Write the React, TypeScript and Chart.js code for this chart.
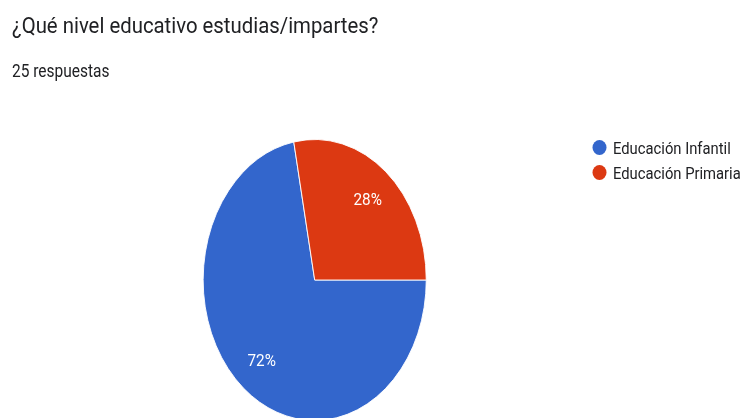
import React, { useEffect, useRef } from 'react';
import { Chart, registerables } from 'chart.js';

Chart.register(...registerables);

// ---- data ----
const TITLE = '¿Qué nivel educativo estudias/impartes?';
const RESPONSES_LABEL = 'respuestas';
const CATEGORIES = ['Educación Infantil', 'Educación Primaria'];
const COUNTS = [18, 7];
const COLORS = ['#3366cc', '#dc3912'];

// ---- layout / style ----
const W = 745;
const H = 418;
const CANVAS_H = 440;
const SX = 0.794; // horizontal squeeze of the pie (elliptical in reference)
const PIE_CX = 314.7;
const PIE_CY = 280;
const PIE_R = 141;
const LABEL_FRAC = 0.745;
const TEXT_COLOR = '#202124';

function drawText(
  ctx: CanvasRenderingContext2D,
  text: string,
  x: number,
  y: number,
  font: string,
  color: string,
  hscale: number,
  align: CanvasTextAlign = 'left',
  baseline: CanvasTextBaseline = 'alphabetic'
) {
  ctx.save();
  ctx.translate(x, y);
  ctx.scale(hscale, 1);
  ctx.font = font;
  ctx.fillStyle = color;
  ctx.textAlign = align;
  ctx.textBaseline = baseline;
  ctx.fillText(text, 0, 0);
  ctx.restore();
}

const googlePiePlugin = {
  id: 'googlePie',
  beforeDatasetsDraw(chart: any) {
    const { ctx, chartArea } = chart;
    const cx = (chartArea.left + chartArea.right) / 2;
    ctx.save();
    ctx.translate(cx, 0);
    ctx.scale(SX, 1);
    ctx.translate(-cx, 0);
  },
  afterDatasetsDraw(chart: any) {
    const { ctx } = chart;
    ctx.restore();
    const meta = chart.getDatasetMeta(0);
    const data = chart.data.datasets[0].data as number[];
    const total = data.reduce((a, b) => a + b, 0);
    meta.data.forEach((arc: any, i: number) => {
      const p = arc.getProps(['x', 'y', 'startAngle', 'endAngle', 'outerRadius'], true);
      const mid = (p.startAngle + p.endAngle) / 2;
      const r = p.outerRadius * LABEL_FRAC;
      const lx = p.x + SX * r * Math.cos(mid);
      const ly = p.y + r * Math.sin(mid);
      const pct = Math.round((data[i] / total) * 100) + '%';
      drawText(ctx, pct, lx, ly + 1, '17px Roboto', '#ffffff', 0.9, 'center', 'middle');
    });
  },
  afterDraw(chart: any) {
    const { ctx } = chart;
    const data = chart.data.datasets[0].data as number[];
    const total = data.reduce((a, b) => a + b, 0);
    // title + subtitle
    drawText(ctx, TITLE, 12, 33, '22px Roboto', TEXT_COLOR, 0.925);
    drawText(ctx, `${total} ${RESPONSES_LABEL}`, 12, 77, '18px Roboto', TEXT_COLOR, 0.86);
    // legend
    const labels = chart.data.labels as string[];
    const colors = chart.data.datasets[0].backgroundColor as string[];
    labels.forEach((lab, i) => {
      const cy = 147.5 + i * 25;
      ctx.save();
      ctx.beginPath();
      ctx.ellipse(599.5, cy, 7, 7.5, 0, 0, Math.PI * 2);
      ctx.fillStyle = colors[i];
      ctx.fill();
      ctx.restore();
      drawText(ctx, lab, 613, cy + 6, '17px Roboto', TEXT_COLOR, 0.87);
    });
  },
};

export default function App() {
  const ref = useRef<HTMLCanvasElement | null>(null);

  useEffect(() => {
    if (!ref.current) return;
    const chart = new Chart(ref.current, {
      type: 'pie',
      data: {
        labels: CATEGORIES,
        datasets: [
          {
            data: COUNTS,
            backgroundColor: COLORS,
            borderColor: '#ffffff',
            borderWidth: 1,
            clip: false as any,
          },
        ],
      },
      options: {
        responsive: false,
        animation: false,
        events: [],
        rotation: 90,
        layout: {
          padding: {
            left: PIE_CX - PIE_R,
            right: W - (PIE_CX + PIE_R),
            top: PIE_CY - PIE_R,
            bottom: CANVAS_H - (PIE_CY + PIE_R),
          },
        },
        plugins: {
          legend: { display: false },
          tooltip: { enabled: false },
          title: { display: false },
        },
      },
      plugins: [googlePiePlugin],
    });
    return () => chart.destroy();
  }, []);

  return (
    <div
      style={{
        position: 'fixed',
        left: 0,
        top: 0,
        width: W,
        height: H,
        overflow: 'hidden',
        background: '#ffffff',
      }}
    >
      <canvas ref={ref} width={W} height={CANVAS_H} style={{ display: 'block' }} />
    </div>
  );
}
